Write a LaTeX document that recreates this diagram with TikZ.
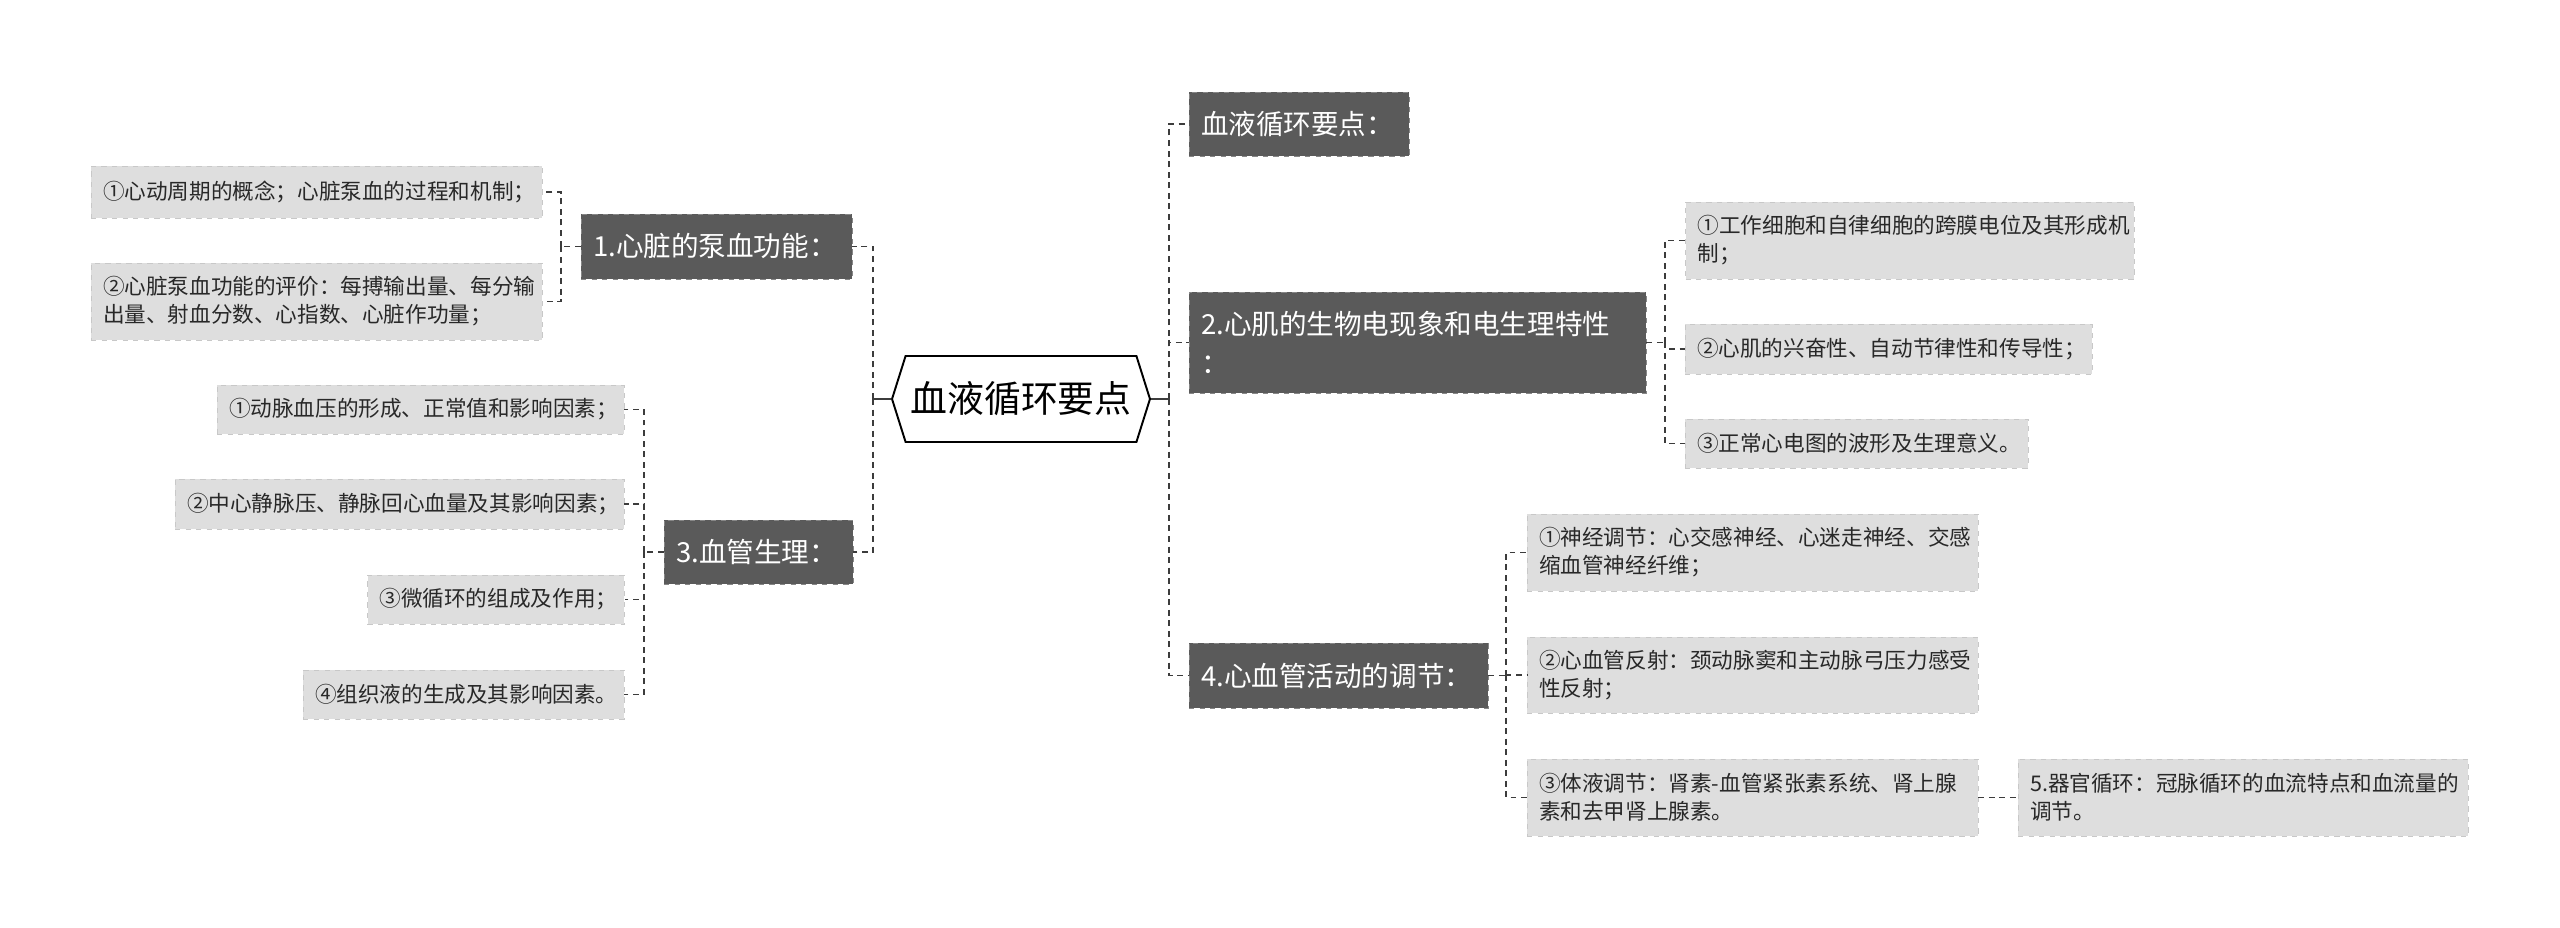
\documentclass[tikz,border=0pt]{standalone}
\usepackage{fontspec}
\setmainfont{Noto Sans CJK SC}
\usepackage{xcolor}
\definecolor{BoxDark}{RGB}{90,90,90}
\definecolor{BorderDark}{RGB}{135,135,135}
\definecolor{BoxLight}{RGB}{222,222,222}
\definecolor{BorderLight}{RGB}{200,200,200}
\definecolor{LineGray}{RGB}{60,60,60}
\definecolor{TextDark}{RGB}{40,40,40}
\usepackage{tikz}
\usetikzlibrary{shapes.symbols, positioning}
\tikzset{
  % Central topic
  roothex/.style={
    signal, signal to=west and east, signal pointer angle=145,
    draw=black, line width=1.1pt, fill=white,
    minimum width=5.16cm, minimum height=1.72cm,
    font=\fontsize{21}{24}\selectfont, inner sep=0pt
  },
  % Main branch box
  dbox/.style={
    rectangle, draw=BorderDark, dashed, fill=BoxDark,
    text=white, align=left, inner xsep=0.24cm, inner ysep=0pt,
    font=\fontsize{15.7}{22}\selectfont, text width=#1
  },
  % Leaf box
  lbox/.style={
    rectangle, draw=BorderLight, dashed, fill=BoxLight,
    text=TextDark, align=left, inner xsep=0.24cm, inner ysep=0pt,
    font=\fontsize{12.3}{16}\selectfont, text width=#1
  },
  % Connectors
  conn/.style={LineGray, line width=0.8pt, dash pattern=on 3.4pt off 2.6pt},
  rootline/.style={LineGray, line width=1pt},
}

\begin{document}
\begin{tikzpicture}[x=0.02cm, y=-0.02cm]

  \useasboundingbox (0,0) rectangle (2560,928);

  %% Root
  \node[roothex] (root) at (1021,399) {血液循环要点};

  %% Left branches
  \node[dbox=4.94cm, minimum height=1.3cm] (n1) at (716.5,246.5) {1.心脏的泵血功能：};
  \node[dbox=3.3cm, minimum height=1.28cm] (n3) at (758.5,552) {3.血管生理：};

  \node[lbox=8.54cm, minimum height=1.04cm] (a1) at (316.5,192) {①心动周期的概念；心脏泵血的过程和机制；};
  \node[lbox=8.54cm, minimum height=1.54cm] (a2) at (316.5,301.5) {②心脏泵血功能的评价：每搏输出量、每分输\\出量、射血分数、心指数、心脏作功量；};

  \node[lbox=7.66cm, minimum height=0.98cm] (b1) at (420.5,409.5) {①动脉血压的形成、正常值和影响因素；};
  \node[lbox=8.5cm, minimum height=1.0cm] (b2) at (399.5,504) {②中心静脉压、静脉回心血量及其影响因素；};
  \node[lbox=4.66cm, minimum height=0.98cm] (b3) at (496,599.5) {③微循环的组成及作用；};
  \node[lbox=5.94cm, minimum height=0.98cm] (b4) at (463.5,694.5) {④组织液的生成及其影响因素。};

  %% Right branches
  \node[dbox=3.92cm, minimum height=1.28cm] (r0) at (1299,124) {血液循环要点：};
  \node[dbox=8.66cm, minimum height=2.02cm] (r2) at (1417.5,342.5) {2.心肌的生物电现象和电生理特性\\：};
  \node[dbox=5.5cm, minimum height=1.3cm] (r4) at (1338.5,675.5) {4.心血管活动的调节：};

  \node[lbox=8.5cm, minimum height=1.54cm] (c1) at (1910,240.5) {①工作细胞和自律细胞的跨膜电位及其形成机\\制；};
  \node[lbox=7.66cm, minimum height=1.0cm] (c2) at (1888.5,349) {②心肌的兴奋性、自动节律性和传导性；};
  \node[lbox=6.38cm, minimum height=0.98cm] (c3) at (1856.5,443.5) {③正常心电图的波形及生理意义。};

  \node[lbox=8.54cm, minimum height=1.54cm] (d1) at (1752.5,552.5) {①神经调节：心交感神经、心迷走神经、交感\\缩血管神经纤维；};
  \node[lbox=8.54cm, minimum height=1.52cm] (d2) at (1752.5,675) {②心血管反射：颈动脉窦和主动脉弓压力感受\\性反射；};
  \node[lbox=8.54cm, minimum height=1.54cm] (d3) at (1752.5,797.5) {③体液调节：肾素-血管紧张素系统、肾上腺\\素和去甲肾上腺素。};
  \node[lbox=8.52cm, minimum height=1.54cm] (e1) at (2243,797.5) {5.器官循环：冠脉循环的血流特点和血流量的\\调节。};

  %% Junctions
  \coordinate (jl) at (873,399);
  \coordinate (jr) at (1169,399);
  \coordinate (j1) at (561,246.5);
  \coordinate (j3) at (644,552);
  \coordinate (j2) at (1665,342.5);
  \coordinate (j4) at (1506,675.5);

  %% Flow
  \draw[rootline] (root.west) -- (jl);
  \draw[rootline] (root.east) -- (jr);

  \draw[conn] (jl) |- (n1.east);
  \draw[conn] (jl) |- (n3.east);
  \draw[conn] (jr) |- (r0.west);
  \draw[conn] (jr) |- (r2.west);
  \draw[conn] (jr) |- (r4.west);

  \draw[conn] (n1.west) -- (j1);
  \draw[conn] (j1) |- (a1.east);
  \draw[conn] (j1) |- (a2.east);

  \draw[conn] (n3.west) -- (j3);
  \foreach \leaf in {b1,b2,b3,b4}
    \draw[conn] (j3) |- (\leaf.east);

  \draw[conn] (r2.east) -- (j2);
  \foreach \leaf in {c1,c2,c3}
    \draw[conn] (j2) |- (\leaf.west);

  \draw[conn] (r4.east) -- (j4);
  \foreach \leaf in {d1,d2,d3}
    \draw[conn] (j4) |- (\leaf.west);

  \draw[conn] (d3.east) -- (e1.west);

\end{tikzpicture}
\end{document}
